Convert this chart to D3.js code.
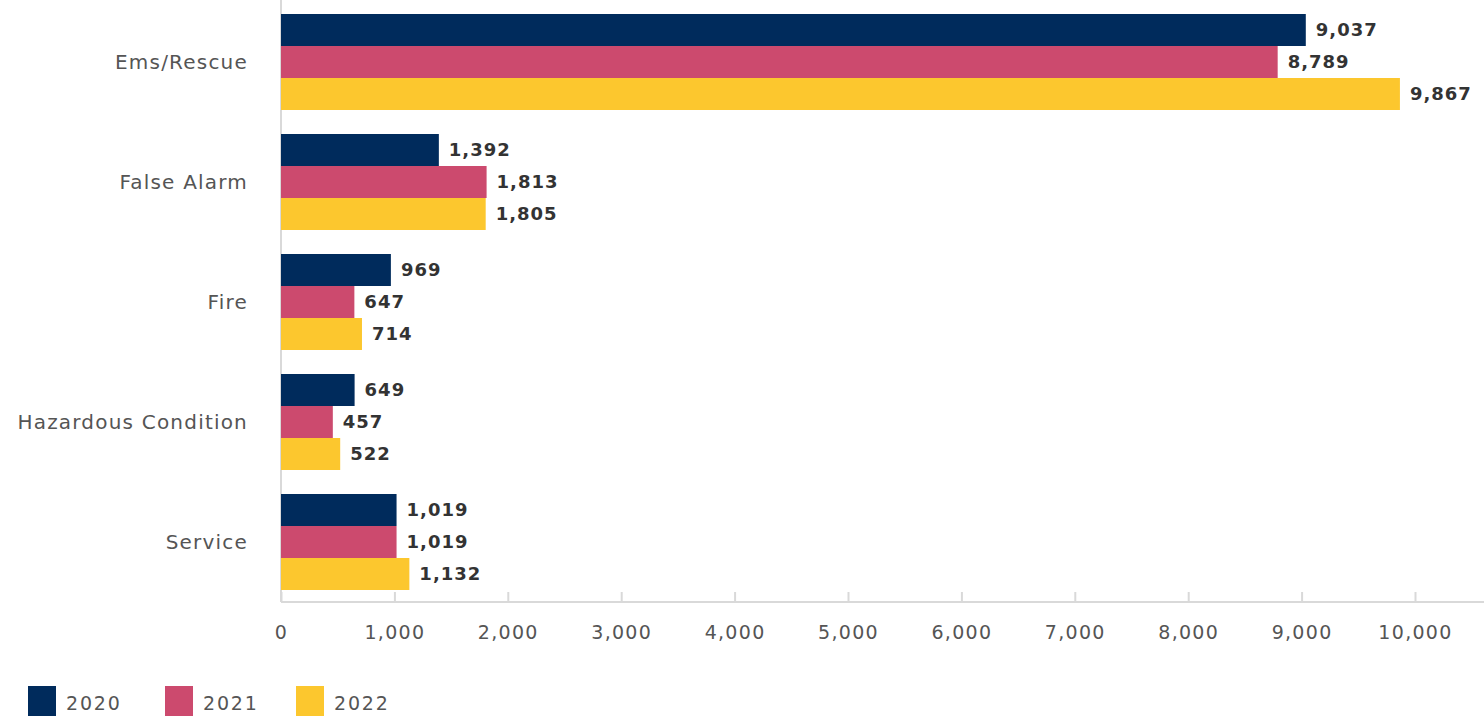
<!DOCTYPE html>
<html>
<head>
<meta charset="utf-8">
<script src="https://cdn.jsdelivr.net/npm/d3@7"></script>
<style>
  body { margin: 0; background: #fff; }
  text { font-family: "DejaVu Sans", "Noto Sans", sans-serif; }
</style>
</head>
<body>
<div id="chart"></div>
<script>
// data
var categories = ["Ems/Rescue", "False Alarm", "Fire", "Hazardous Condition", "Service"];
var years = ["2020", "2021", "2022"];
var values2020 = [9037, 1392, 969, 649, 1019];
var values2021 = [8789, 1813, 647, 457, 1019];
var values2022 = [9867, 1805, 714, 522, 1132];
var tickValues = [0, 1000, 2000, 3000, 4000, 5000, 6000, 7000, 8000, 9000, 10000];
var colors = ["#002b5c", "#cc4a6e", "#fcc72e"];

var series = [values2020, values2021, values2022];

var totalW = 1484, totalH = 719;
var margin = {top: 2, left: 281, bottom: 117};
var height = totalH - margin.top - margin.bottom;

var svg = d3.select("#chart")
  .append("svg")
    .attr("width", totalW)
    .attr("height", totalH);

var g = svg.append("g")
  .attr("transform", `translate(${margin.left},${margin.top})`);

// scales
var x = d3.scaleLinear()
  .domain([0, 10000])
  .range([0, 1134]);

var y0 = d3.scaleBand()
  .domain(categories)
  .range([0, height])
  .paddingInner(0.2)
  .paddingOuter(0.1);

var y1 = d3.scaleBand()
  .domain(years)
  .range([0, y0.bandwidth()]);

// x axis with ticks pointing up
var xAxis = g.append("g")
  .attr("transform", `translate(0,${height})`)
  .call(d3.axisBottom(x).tickValues(tickValues).tickSizeInner(-10).tickSizeOuter(0).tickPadding(24).tickFormat(d3.format(",")));
xAxis.select(".domain").remove();
xAxis.selectAll(".tick line").attr("stroke", "#d9d9d9").attr("stroke-width", 2);
xAxis.selectAll("text")
  .attr("fill", "#555")
  .style("font-size", "19px")
  .style("letter-spacing", "1.3px");
g.append("line")
  .attr("x1", 0).attr("x2", totalW - margin.left)
  .attr("y1", height).attr("y2", height)
  .attr("stroke", "#d9d9d9").attr("stroke-width", 2);

// y axis line
g.append("line")
  .attr("x1", 0).attr("x2", 0)
  .attr("y1", -margin.top).attr("y2", height)
  .attr("stroke", "#d9d9d9").attr("stroke-width", 2);

// category labels
g.selectAll(".cat")
  .data(categories)
  .join("text")
    .attr("class", "cat")
    .attr("x", -33)
    .attr("y", d => y0(d) + y0.bandwidth() / 2)
    .attr("dy", "0.35em")
    .attr("text-anchor", "end")
    .attr("fill", "#555")
    .style("font-size", "20px")
    .style("letter-spacing", "1.2px")
    .text(d => d);

// bars
var rows = [];
categories.forEach(function(c, i) {
  years.forEach(function(yr, j) {
    rows.push({cat: c, year: yr, value: series[j][i], color: colors[j]});
  });
});

g.selectAll(".bar")
  .data(rows)
  .join("rect")
    .attr("class", "bar")
    .attr("x", x(0))
    .attr("y", d => y0(d.cat) + y1(d.year))
    .attr("width", d => x(d.value))
    .attr("height", y1.bandwidth())
    .attr("fill", d => d.color);

g.selectAll(".val")
  .data(rows)
  .join("text")
    .attr("class", "val")
    .attr("x", d => x(d.value) + 10)
    .attr("y", d => y0(d.cat) + y1(d.year) + y1.bandwidth() / 2)
    .attr("dy", "0.35em")
    .attr("fill", "#333")
    .style("font-size", "18px")
    .style("font-weight", "bold")
    .style("letter-spacing", "1px")
    .text(d => d3.format(",")(d.value));

// legend
var legendX = [28, 165, 296];
var legend = svg.selectAll(".legend")
  .data(years)
  .join("g")
    .attr("class", "legend")
    .attr("transform", (d, i) => `translate(${legendX[i]},686)`);
legend.append("rect")
  .attr("width", 28).attr("height", 30)
  .attr("fill", (d, i) => colors[i]);
legend.append("text")
  .attr("x", 38).attr("y", 17)
  .attr("dy", "0.35em")
  .attr("fill", "#555")
  .style("font-size", "19px")
  .style("letter-spacing", "1.8px")
  .text(d => d);
</script>
</body>
</html>
